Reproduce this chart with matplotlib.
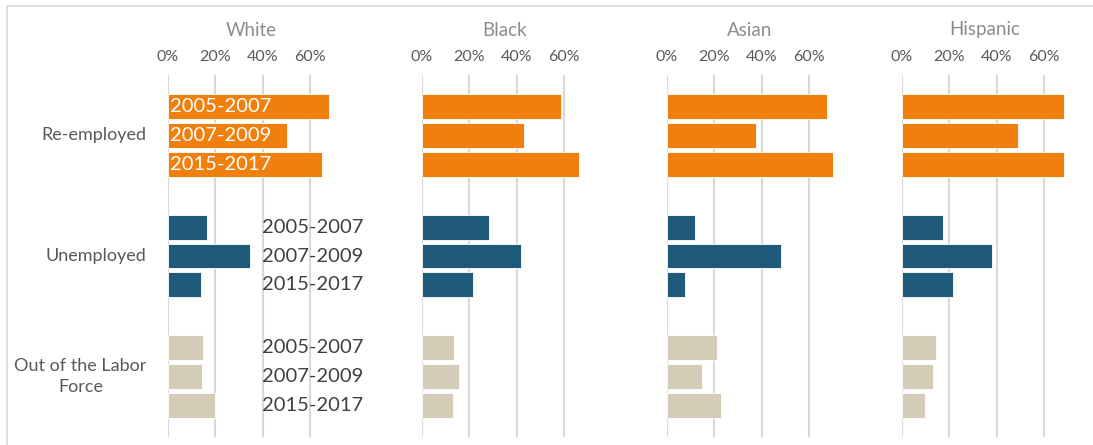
import matplotlib.pyplot as plt
from matplotlib.patches import Rectangle

plt.rcParams['font.family'] = ['Lato', 'DejaVu Sans']

# data (percent), rows = groups, columns = periods
groups = ['Re-employed', 'Unemployed', 'Out of the Labor\nForce']
periods = ['2005-2007', '2007-2009', '2015-2017']
races = ['White', 'Black', 'Asian', 'Hispanic']
white = [[67.9, 50.2, 64.8], [16.4, 34.7, 13.9], [14.9, 14.4, 19.8]]
black = [[58.5, 42.9, 66.1], [28.2, 41.6, 21.4], [13.3, 15.8, 12.9]]
asian = [[67.6, 37.7, 70.2], [11.7, 48.0, 7.8], [21.1, 14.6, 22.6]]
hispanic = [[68.5, 48.8, 68.5], [17.1, 37.9, 21.7], [14.3, 13.2, 9.7]]
values = [white, black, asian, hispanic]
colors = ['#F0800D', '#1F5A7A', '#D4CCB6']

W, H = 1093, 445
fig = plt.figure(figsize=(W / 100, H / 100), dpi=100)

# outer frame (top and left edges visible)
fig.patches.append(Rectangle((7 / W, -0.05), 1.1, 1 - 6 / H + 0.05,
                             transform=fig.transFigure, fill=False,
                             edgecolor='#D9D9D9', lw=1.2))

lefts = [168, 422, 667, 902]
pitch = 0.24
bh = 0.207
for i, race in enumerate(races):
    ax = fig.add_axes([lefts[i] / W, 1 - 437 / H, 166 / W, 362 / H])
    for g in range(3):
        for p in range(3):
            y = g + (p - 1) * pitch
            ax.barh(y, values[i][g][p], height=bh, color=colors[g],
                    edgecolor='white', lw=0.6, zorder=3)
    ax.set_xlim(0, 70)
    ax.set_ylim(2.5, -0.5)
    ax.set_xticks([0, 20, 40, 60])
    ax.set_xticklabels(['0%', '20%', '40%', '60%'])
    ax.xaxis.tick_top()
    ax.tick_params(axis='x', length=0, pad=8, labelsize=11.5, labelcolor='#595959')
    ax.set_yticks([])
    ax.grid(axis='x', color='#D9D9D9', lw=1.5, zorder=0)
    for s in ax.spines.values():
        s.set_visible(False)
    ax.text(0.5, 1 + 45 / 362, race, transform=ax.transAxes, ha='center',
            va='center', fontsize=13.5, color='#8C8C8C')

    if i == 0:
        for g in range(3):
            ax.text(-9, g, groups[g], ha='right', va='center', fontsize=13,
                    color='#595959', multialignment='center', linespacing=1.4)
            for p in range(3):
                y = g + (p - 1) * pitch
                if g == 0:
                    ax.text(0.8, y, periods[p], ha='left', va='center',
                            fontsize=14.5, color='white', zorder=4)
                else:
                    ax.text(39.5, y, periods[p], ha='left', va='center',
                            fontsize=14.5, color='#404040', zorder=4)

fig.savefig('out.png', dpi=100)
